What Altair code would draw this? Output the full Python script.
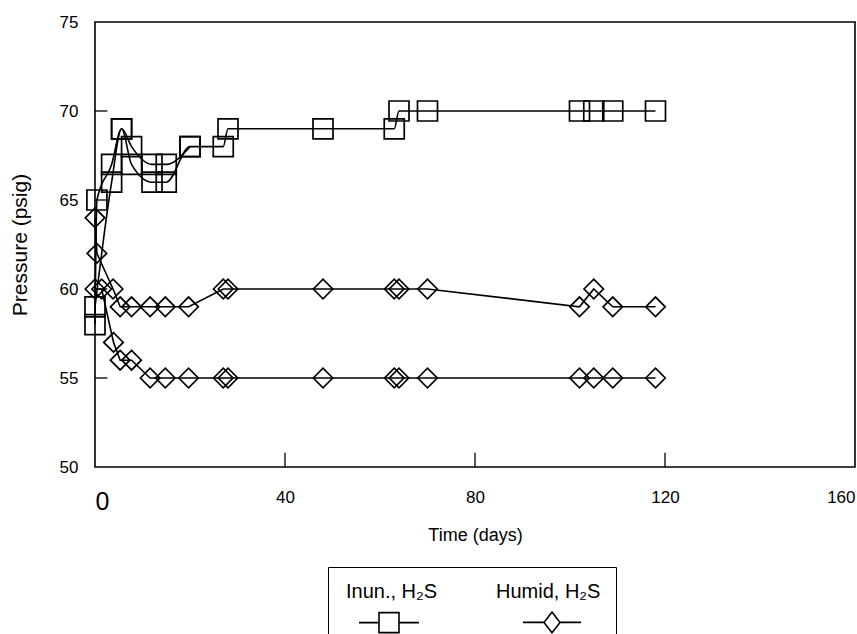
import altair as alt
import pandas as pd

# ---- data ----
inun_a_days = [0, 0.4, 3.5, 5.6, 7.7, 12, 15, 20, 27, 28, 48, 63, 64, 70, 102, 105, 109, 118]
inun_a_psig = [58, 65, 67, 69, 67, 66, 66, 68, 68, 69, 69, 69, 70, 70, 70, 70, 70, 70]
inun_b_days = [0, 3.5, 5.6, 7.7, 12, 15, 20]
inun_b_psig = [59, 66, 69, 68, 67, 67, 68]

humid_a_days = [0, 0.4, 3.8, 5.3, 7.7, 11.6, 14.8, 19.7, 27, 28, 48, 63, 64, 70, 102, 105, 109, 118]
humid_a_psig = [64, 62, 60, 59, 59, 59, 59, 59, 60, 60, 60, 60, 60, 60, 59, 60, 59, 59]
humid_b_days = [0, 1.4, 3.9, 5.3, 7.7, 11.6, 14.8, 19.7, 27, 28, 48, 63, 64, 70, 102, 105, 109, 118]
humid_b_psig = [60, 60, 57, 56, 56, 55, 55, 55, 55, 55, 55, 55, 55, 55, 55, 55, 55, 55]

series_names = ["Inun., H\u2082S", "Humid, H\u2082S"]
x_ticks = [0, 40, 80, 120, 160]
y_ticks = [50, 55, 60, 65, 70, 75]
inner_x_ticks = [40, 80, 120]
inner_y_ticks = [55, 60, 65, 70]


def frame(days, psig, name, run):
    return pd.DataFrame({"day": days, "psig": psig, "series": name, "run": run})


inun = pd.concat([frame(inun_a_days, inun_a_psig, series_names[0], "ia"),
                  frame(inun_b_days, inun_b_psig, series_names[0], "ib")])
humid = pd.concat([frame(humid_a_days, humid_a_psig, series_names[1], "ha"),
                   frame(humid_b_days, humid_b_psig, series_names[1], "hb")])

FONT = "Liberation Sans"
xs = alt.Scale(domain=[0, 160], nice=False, zero=False)
ys = alt.Scale(domain=[50, 75], nice=False, zero=False)

x_axis = alt.Axis(values=x_ticks, title="Time (days)", grid=False, ticks=False, domain=False,
                  labelFont=FONT, labelColor="black", labelPadding=22,
                  labelFontSize={"condition": {"test": "datum.value == 0", "value": 25}, "value": 17},
                  titleFont=FONT, titleFontSize=18, titleFontWeight="normal", titleColor="black",
                  titlePadding=12)
y_axis = alt.Axis(values=y_ticks, title="Pressure (psig)", grid=False, ticks=False, domain=False,
                  labelFont=FONT, labelFontSize=17, labelColor="black", labelPadding=17,
                  titleFont=FONT, titleFontSize=21, titleFontWeight="normal", titleColor="black",
                  titlePadding=29)

X = alt.X("day:Q", scale=xs, axis=x_axis)
Y = alt.Y("psig:Q", scale=ys, axis=y_axis)

line_inun = alt.Chart(inun).mark_line(interpolate="monotone", color="black", strokeWidth=1.6).encode(
    x=X, y=Y, detail="run:N")
line_humid = alt.Chart(humid).mark_line(interpolate="linear", color="black", strokeWidth=1.6).encode(
    x=X, y=Y, detail="run:N")
pts_inun = alt.Chart(inun).mark_point(shape="square", size=400, filled=False, color="black",
                                      strokeWidth=1.7, opacity=1).encode(x=X, y=Y)
pts_humid = alt.Chart(humid).mark_point(shape="diamond", size=380, filled=False, color="black",
                                        strokeWidth=1.7, opacity=1).encode(x=X, y=Y)

# inward tick marks
tx = pd.DataFrame({"day": inner_x_ticks, "y0": [50] * 3, "y1": [50.8] * 3})
ty = pd.DataFrame({"psig": inner_y_ticks, "x0": [0] * 4, "x1": [2.6] * 4})
ticks_x = alt.Chart(tx).mark_rule(color="black", strokeWidth=1.3).encode(
    x=alt.X("day:Q", scale=xs), y=alt.Y("y0:Q", scale=ys), y2="y1:Q")
ticks_y = alt.Chart(ty).mark_rule(color="black", strokeWidth=1.3).encode(
    y=alt.Y("psig:Q", scale=ys), x=alt.X("x0:Q", scale=xs), x2="x1:Q")

# legend (label above a line-through-marker symbol)
sq_path = "M1.5,7.6L6.5,7.6M11.5,7.6L16.5,7.6M6.5,5.1L11.5,5.1L11.5,10.1L6.5,10.1Z"
dm_path = "M5,7.6L10.25,7.6M14.25,7.6L19.5,7.6M12.25,5L14.25,7.6L12.25,10.2L10.25,7.6Z"
leg_df = pd.DataFrame({"series": series_names})
legend_layer = alt.Chart(leg_df).mark_point(filled=False, color="black", opacity=0).encode(
    shape=alt.Shape("series:N",
                    scale=alt.Scale(domain=series_names, range=[sq_path, dm_path]),
                    legend=alt.Legend(title=None, orient="none", legendX=233, legendY=545,
                                      direction="horizontal", strokeColor="black", padding=15,
                                      symbolSize=64, symbolStrokeWidth=1.6, symbolOpacity=1,
                                      symbolStrokeColor="black", symbolFillColor="transparent",
                                      labelFont=FONT, labelFontSize=20, labelColor="black",
                                      labelBaseline="middle", labelOffset={"expr": "-17"},
                                      columnPadding=55, labelLimit=300)))

chart = alt.layer(ticks_x, ticks_y, line_inun, line_humid, pts_inun, pts_humid, legend_layer).properties(
    width=760, height=445,
    autosize=alt.AutoSizeParams(type="none"),
    padding={"left": 95, "top": 22, "right": 2, "bottom": 170},
    background="white",
).configure_view(stroke="black", strokeWidth=1.6)

chart.save("out.html", embed_options={"renderer": "svg", "actions": False})
